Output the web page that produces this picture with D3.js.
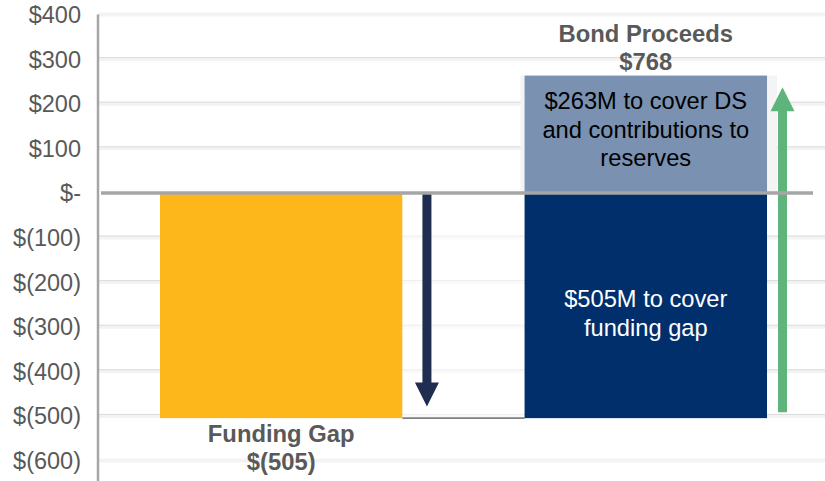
<!DOCTYPE html>
<html>
<head>
<meta charset="utf-8">
<script src="https://cdn.jsdelivr.net/npm/d3@7"></script>
<style>
  body { margin: 0; background: #fff; }
  svg { display: block; font-family: "Liberation Sans", Arial, sans-serif; }
</style>
</head>
<body>
<div id="chart"></div>
<script>
"use strict";

// chart data
let categories = ["Funding Gap", "Bond Proceeds"];
let gapValues = [-505];            // funding gap bar
let proceedsParts = [505, 263];    // $505M covers gap, $263M DS + reserves
let proceedsTotal = 768;
let yTicks = [400, 300, 200, 100, 0, -100, -200, -300, -400, -500, -600];
let partLabels = [
  ["$505M to cover", "funding gap"],
  ["$263M to cover DS", "and contributions to", "reserves"]
];
let downArrow = [0, -479];   // value range of the navy arrow
let upArrow = [-492, 237];   // value range of the green arrow

let width = 825,
  height = 481;

let svg = d3.select("#chart").append("svg")
  .attr("width", width)
  .attr("height", height);

let axisX = 98;

let y = d3.scaleLinear()
  .domain([-600, 400])
  .range([460.5, 14.5]);

let x = d3.scaleBand()
  .domain(categories)
  .range([axisX, 829])
  .paddingInner(0.335)
  .paddingOuter(0.17);

let fmt = function(v) {
  if (v === 0) return "$-";
  if (v < 0) return "$(" + Math.abs(v) + ")";
  return "$" + v;
};

// gridlines
let grid = svg.append("g");
grid.selectAll(".band")
  .data(yTicks.filter(d => d !== 0))
  .enter().append("line")
  .attr("x1", axisX).attr("x2", width)
  .attr("y1", d => y(d)).attr("y2", d => y(d))
  .style("stroke", "#f3f3f3")
  .style("stroke-width", 4);
grid.selectAll(".gl")
  .data(yTicks.filter(d => d !== 0 && d !== 400 && d !== -600))
  .enter().append("line")
  .attr("x1", axisX).attr("x2", width)
  .attr("y1", d => y(d) - 1.5).attr("y2", d => y(d) - 1.5)
  .style("stroke", "#dcdcdc")
  .style("stroke-width", 1);

// tick labels
svg.append("g").selectAll("text")
  .data(yTicks)
  .enter().append("text")
  .attr("x", 81)
  .attr("y", d => y(d))
  .attr("dy", "0.36em")
  .attr("text-anchor", "end")
  .style("font-size", "23.5px")
  .style("fill", "#595959")
  .text(fmt);

let bw = x.bandwidth();
let x0 = x(categories[0]),
  x1 = x(categories[1]);

// light shading behind the top part of bond proceeds
svg.append("rect")
  .attr("x", x1 - 4)
  .attr("y", y(proceedsParts[1]))
  .attr("width", bw + 14)
  .attr("height", y(0) - y(proceedsParts[1]))
  .style("fill", "#f4f4f4");

// funding gap bar
svg.selectAll(".gap")
  .data(gapValues)
  .enter().append("rect")
  .attr("x", x0)
  .attr("y", y(0))
  .attr("width", bw)
  .attr("height", d => y(d) - y(0))
  .style("fill", "#FDB71A");

// invisible connector bar with bottom edge
svg.append("rect")
  .attr("x", x0 + bw)
  .attr("y", y(0))
  .attr("width", x1 - x0 - bw)
  .attr("height", y(gapValues[0]) - y(0))
  .style("fill", "#fff")
  .style("fill-opacity", 0.55);
svg.append("line")
  .attr("x1", x0 + bw).attr("x2", x1)
  .attr("y1", y(gapValues[0])).attr("y2", y(gapValues[0]))
  .style("stroke", "#7f7f7f")
  .style("stroke-width", 1.8);

// bond proceeds stacked bar
let partColors = ["#002F6C", "#7A91B1"];
let partBounds = [[-proceedsParts[0], 0], [0, proceedsParts[1]]];
svg.selectAll(".part")
  .data(partBounds)
  .enter().append("rect")
  .attr("x", x1)
  .attr("y", d => y(d[1]))
  .attr("width", bw)
  .attr("height", d => y(d[0]) - y(d[1]))
  .style("fill", (d, i) => partColors[i]);

// text inside the bars
let partText = [
  { lines: partLabels[0], y0: 307, color: "#ffffff" },
  { lines: partLabels[1], y0: 109, color: "#000000" }
];
partText.forEach(p => {
  svg.append("text")
    .attr("x", x1 + bw / 2)
    .attr("y", p.y0)
    .attr("text-anchor", "middle")
    .style("font-size", "23.7px")
    .style("fill", p.color)
    .selectAll("tspan")
    .data(p.lines)
    .enter().append("tspan")
    .attr("x", x1 + bw / 2)
    .attr("dy", (d, i) => i === 0 ? 0 : 28.5)
    .text(d => d);
});

// category labels
let catLabels = [
  { lines: [categories[0], fmt(gapValues[0])], cx: x0 + bw / 2, y0: 442 },
  { lines: [categories[1], fmt(proceedsTotal)], cx: x1 + bw / 2, y0: 42 }
];
catLabels.forEach(c => {
  svg.append("text")
    .attr("x", c.cx)
    .attr("y", c.y0)
    .attr("text-anchor", "middle")
    .style("font-size", "23.8px")
    .style("font-weight", "bold")
    .style("fill", "#595959")
    .selectAll("tspan")
    .data(c.lines)
    .enter().append("tspan")
    .attr("x", c.cx)
    .attr("dy", (d, i) => i === 0 ? 0 : 28)
    .text(d => d);
});

// arrows
function drawArrow(cx, from, to, color) {
  let dir = Math.sign(to - from); // +1 up, -1 down
  let tip = y(to),
    base = y(from);
  let headLen = 24,
    headW = 12,
    shaftW = 4.5;
  let headBase = tip + dir * headLen;
  let pts = [
    [cx - shaftW, base],
    [cx - shaftW, headBase],
    [cx - headW, headBase],
    [cx, tip],
    [cx + headW, headBase],
    [cx + shaftW, headBase],
    [cx + shaftW, base]
  ];
  svg.append("path")
    .attr("d", d3.line()(pts) + "Z")
    .style("fill", color);
}
drawArrow(x0 + bw + 24.5, downArrow[0], downArrow[1], "#1F2D50");
drawArrow(x1 + bw + 15.5, upArrow[0], upArrow[1], "#5FB47C");

// zero line
svg.append("line")
  .attr("x1", axisX + 3).attr("x2", 813)
  .attr("y1", y(0)).attr("y2", y(0))
  .style("stroke", "#a6a6a6")
  .style("stroke-width", 3.5);

// y axis line
svg.append("line")
  .attr("x1", axisX).attr("x2", axisX)
  .attr("y1", y(400)).attr("y2", height)
  .style("stroke", "#a6a6a6")
  .style("stroke-width", 2.5);
</script>
</body>
</html>
